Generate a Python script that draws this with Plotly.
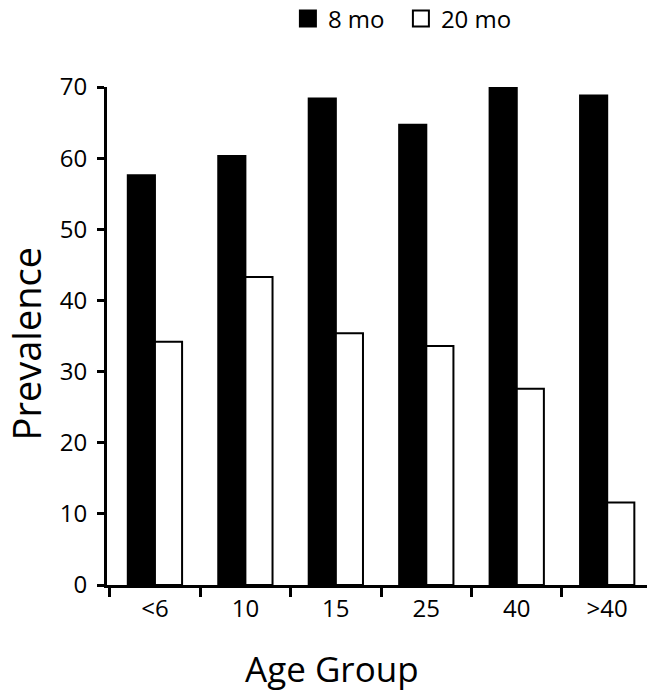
import plotly.graph_objects as go

categories = ["<6", "10", "15", "25", "40", ">40"]
mo8 = [57.6, 60.3, 68.4, 64.7, 70.6, 68.8]
mo20 = [34.2, 43.3, 35.4, 33.6, 27.6, 11.6]
y_ticks = [0, 10, 20, 30, 40, 50, 60, 70]
series_names = ["8 mo", "20 mo"]
x_title = "Age Group"
y_title = "Prevalence"

FONT = "Open Sans"

fig = go.Figure()
fig.add_trace(go.Bar(x=categories, y=mo8, name=series_names[0], showlegend=False,
                     legendgroup="a", cliponaxis=False,
                     marker=dict(color="black", line=dict(color="black", width=2))))
fig.add_trace(go.Bar(x=categories, y=mo20, name=series_names[1], showlegend=False,
                     legendgroup="b", cliponaxis=False,
                     marker=dict(color="white", line=dict(color="black", width=2))))
# legend entries (larger square swatches)
fig.add_trace(go.Scatter(x=[categories[0]], y=[None], mode="markers", name=series_names[0],
                         legendgroup="a",
                         marker=dict(symbol="square", size=16, color="black",
                                     line=dict(color="black", width=2))))
fig.add_trace(go.Scatter(x=[categories[0]], y=[None], mode="markers", name=series_names[1],
                         legendgroup="b",
                         marker=dict(symbol="square", size=16, color="white",
                                     line=dict(color="black", width=2))))

fig.update_layout(
    width=650, height=693,
    margin=dict(l=107, r=3, t=87, b=108, autoexpand=False),
    paper_bgcolor="white", plot_bgcolor="white",
    barmode="group", bargap=0.4, bargroupgap=0,
    font=dict(family=FONT, color="black"),
    legend=dict(orientation="h", x=0.335, xanchor="left", y=1 + (87 - 19) / 498,
                yanchor="middle",
                font=dict(size=24, family=FONT), itemsizing="trace",
                entrywidth=68, traceorder="normal", bgcolor="rgba(0,0,0,0)"),
    showlegend=True,
    annotations=[
        dict(text=x_title, xref="paper", yref="paper", x=0.417, y=-0.1675,
             xanchor="center", yanchor="middle", showarrow=False,
             font=dict(size=35, family=FONT)),
        dict(text=y_title, xref="paper", yref="paper", x=(26 - 107) / 540, y=0.485,
             xanchor="center", yanchor="middle", showarrow=False, textangle=-90,
             font=dict(size=38, family=FONT)),
    ],
)
fig.update_xaxes(
    type="category", range=[-0.53, 5.44], automargin=False,
    showline=True, linecolor="black", linewidth=3,
    ticks="outside", tickson="boundaries", ticklen=9, tickwidth=3, tickcolor="black",
    tickfont=dict(size=24, family=FONT),
    showgrid=False, zeroline=False,
)
fig.update_yaxes(
    range=[0, 70], tickvals=y_ticks, automargin=False,
    showline=True, linecolor="black", linewidth=3,
    ticks="outside", ticklen=7, tickwidth=3, tickcolor="black",
    tickfont=dict(size=24, family=FONT), ticklabelstandoff=5,
    showgrid=False, zeroline=False,
)

fig.write_html("out.html", config={"displayModeBar": False},
               post_script="document.body.style.margin='0';")
